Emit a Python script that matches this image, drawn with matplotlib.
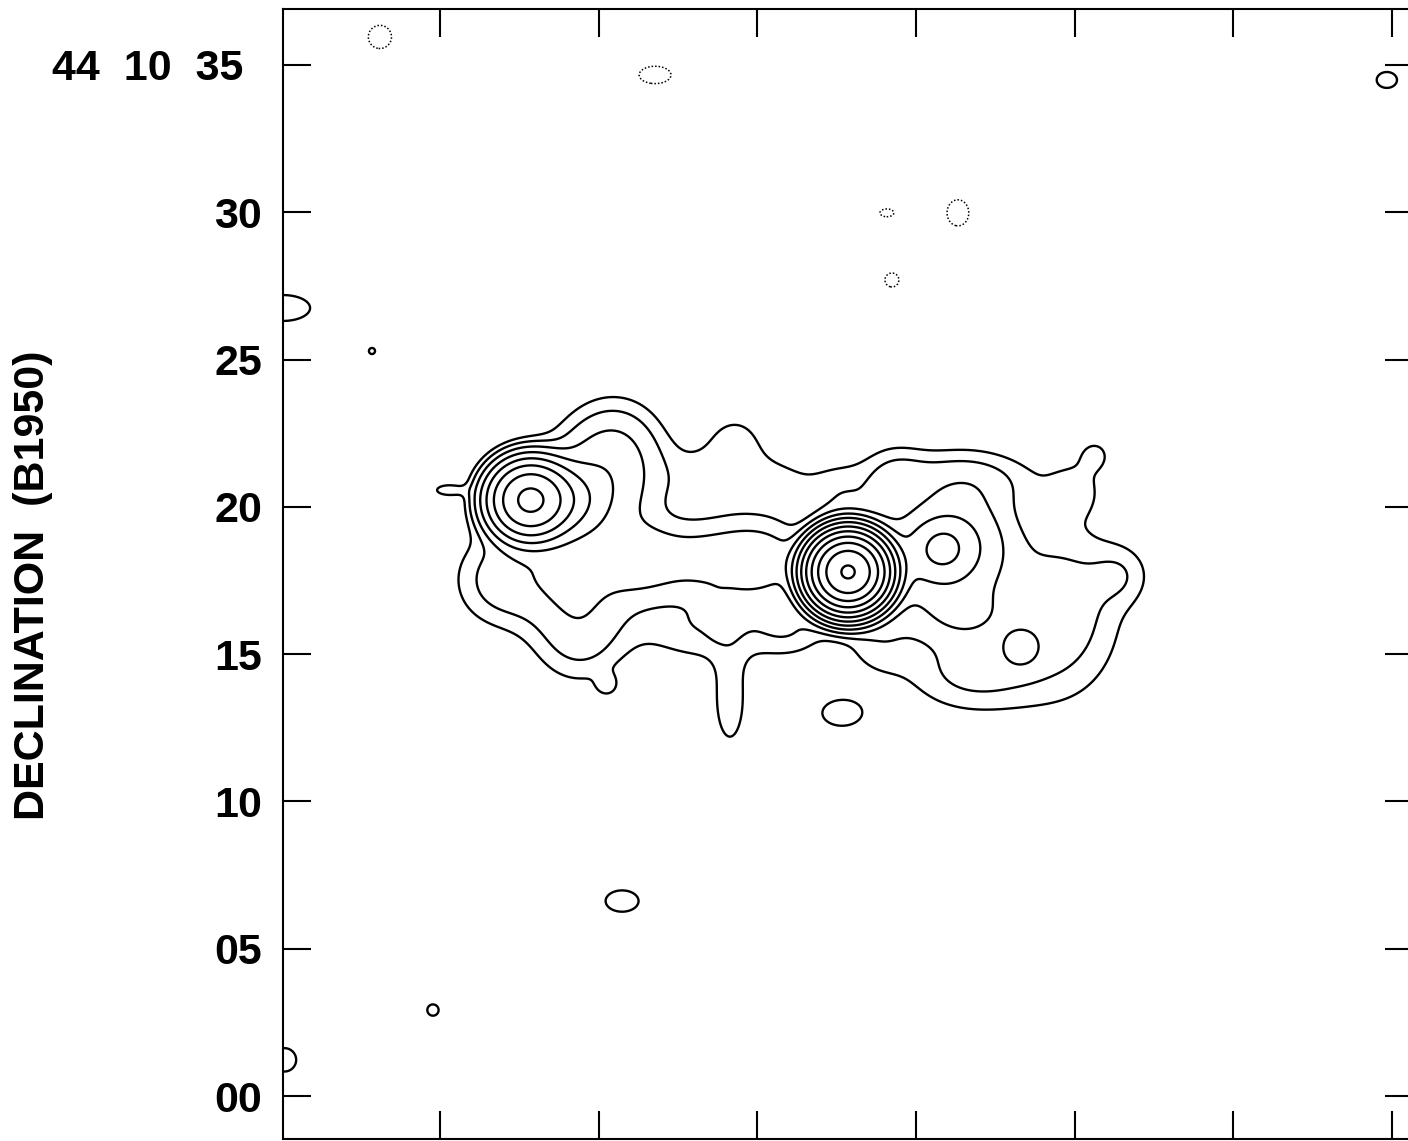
import numpy as np
import matplotlib.pyplot as plt
import matplotlib.transforms as mtransforms

plt.rcParams['font.family'] = ['Liberation Sans', 'DejaVu Sans']
plt.rcParams['font.weight'] = 'bold'

# emission components: offset in arcsec from the left edge
# (RA) and Dec seconds, peak in units of the lowest contour, widths in arcsec
comp_ra = [19.18, 8.384, 22.37, 9.742,
           10.76, 9.91, 11.27, 7.366, 10.08, 12.12, 5.60,
           14.15, 16.19, 15.00, 15.34, 14.49, 15.17, 11.00, 14.77, 17.21, 17.21,
           20.94, 23.15, 26.37, 22.98, 27.56, 28.41, 23.49, 25.05, 20.26, 20.77,
           26.88, 18.91, 22.98,
           18.97, 11.51, 5.09, 0.05, 0.0, 3.02, 37.47,
           3.29, 12.63, 20.50, 22.91, 20.67]
comp_dec = [17.79, 20.23, 18.60, 20.23,
            20.57, 17.69, 22.10, 17.52, 15.48, 18.20, 20.57,
            18.27, 18.20, 20.91, 22.27, 15.99, 13.45, 13.95, 16.43, 15.82, 20.51,
            18.20, 18.71, 16.50, 20.91, 21.76, 17.69, 14.46, 15.21, 15.48, 20.91,
            20.57, 20.40, 16.33,
            13.00, 6.62, 2.92, 1.23, 26.75, 25.29, 34.49,
            35.95, 34.66, 29.98, 29.98, 27.70]
comp_amp = [2200, 150, 12, 12,
            6, 4.5, 3, 2.5, 2, 3.5, 1.5,
            5, 5, 1.8, 1.2, 2, 1.6, 1.2, 1.2, 1.5, 0.6,
            6, 6.5, 3, 2.2, 1.2, 1.5, 2.5, 3.5, 1.5, 2.0,
            1.2, 1.5, 3.0,
            1.6, 1.6, 1.1, 1.5, 2, 1.05, 1.3,
            -1.3, -1.3, -1.1, -1.3, -1.1]
comp_sig_ra = [0.594, 0.696, 0.611, 0.679,
               1.188, 1.290, 1.018, 1.018, 1.018, 0.849, 0.407,
               1.527, 1.018, 1.527, 0.611, 1.697, 0.441, 0.272, 0.238, 0.849, 0.747,
               1.358, 1.086, 1.358, 1.697, 0.407, 0.679, 1.527, 0.407, 0.849, 0.747,
               0.679, 0.747, 1.188,
               0.679, 0.577, 0.441, 0.441, 0.781, 0.339, 0.475,
               0.543, 0.747, 0.543, 0.509, 0.543]
comp_sig_dec = [0.577, 0.662, 0.611, 0.679,
                1.188, 1.290, 1.018, 1.018, 1.018, 0.849, 0.170,
                0.781, 0.849, 0.849, 0.611, 0.849, 1.290, 0.272, 0.475, 0.611, 0.747,
                1.018, 1.290, 1.867, 0.679, 0.407, 0.679, 0.950, 0.407, 0.849, 0.747,
                0.679, 0.747, 0.679,
                0.441, 0.373, 0.441, 0.441, 0.373, 0.339, 0.373,
                0.543, 0.407, 0.305, 0.611, 0.543]

contour_levels = [1, 2, 4, 8, 16, 32, 64, 128, 256, 512, 1024, 2048]
negative_levels = [-1]

dec_ticks = [35, 30, 25, 20, 15, 10, 5, 0]
dec_labels = ["", "30", "25", "20", "15", "10", "05", "00"]
top_label = "44  10  35"
ra_ticks = [5.33, 10.72, 16.10, 21.49, 26.87, 32.26, 37.65]

ra = np.linspace(-0.5, 38.8, 900)
dec = np.linspace(-2.0, 37.5, 900)
RA, DEC = np.meshgrid(ra, dec)
flux = np.zeros_like(RA)
for x0, y0, a, sx, sy in zip(comp_ra, comp_dec, comp_amp, comp_sig_ra, comp_sig_dec):
    flux += a * np.exp(-0.5 * (((RA - x0) / sx) ** 2 + ((DEC - y0) / sy) ** 2))

fig = plt.figure(figsize=(14.08, 11.41), dpi=100)
ax = fig.add_axes([0.2010, 0.00175, 0.8026, 0.9904])

ax.contour(RA, DEC, flux, levels=contour_levels, colors='k', linewidths=1.7)
ax.contour(RA, DEC, flux, levels=negative_levels, colors='k', linewidths=1.1,
           linestyles=[(0, (1, 1.3))])

ax.set_xlim(0, 38.36)
ax.set_ylim(-1.457, 36.90)

ax.set_xticks(ra_ticks)
ax.set_xticklabels([])
ax.set_yticks(dec_ticks)
ax.set_yticklabels(dec_labels)
ax.tick_params(direction='in', length=20, width=1.5, top=True, right=True,
               labelsize=31, pad=15)
for s in ax.spines.values():
    s.set_linewidth(1.5)

trans = mtransforms.blended_transform_factory(ax.transAxes, ax.transData)
ax.text(-0.0354, 35, top_label, transform=trans, ha='right', va='center_baseline',
        fontsize=31, fontweight='bold')

ax.set_ylabel("DECLINATION  (B1950)", fontsize=31, fontweight='bold')
ax.yaxis.set_label_coords(-0.2035, 0.4898)

fig.savefig("out.png", dpi=100)
